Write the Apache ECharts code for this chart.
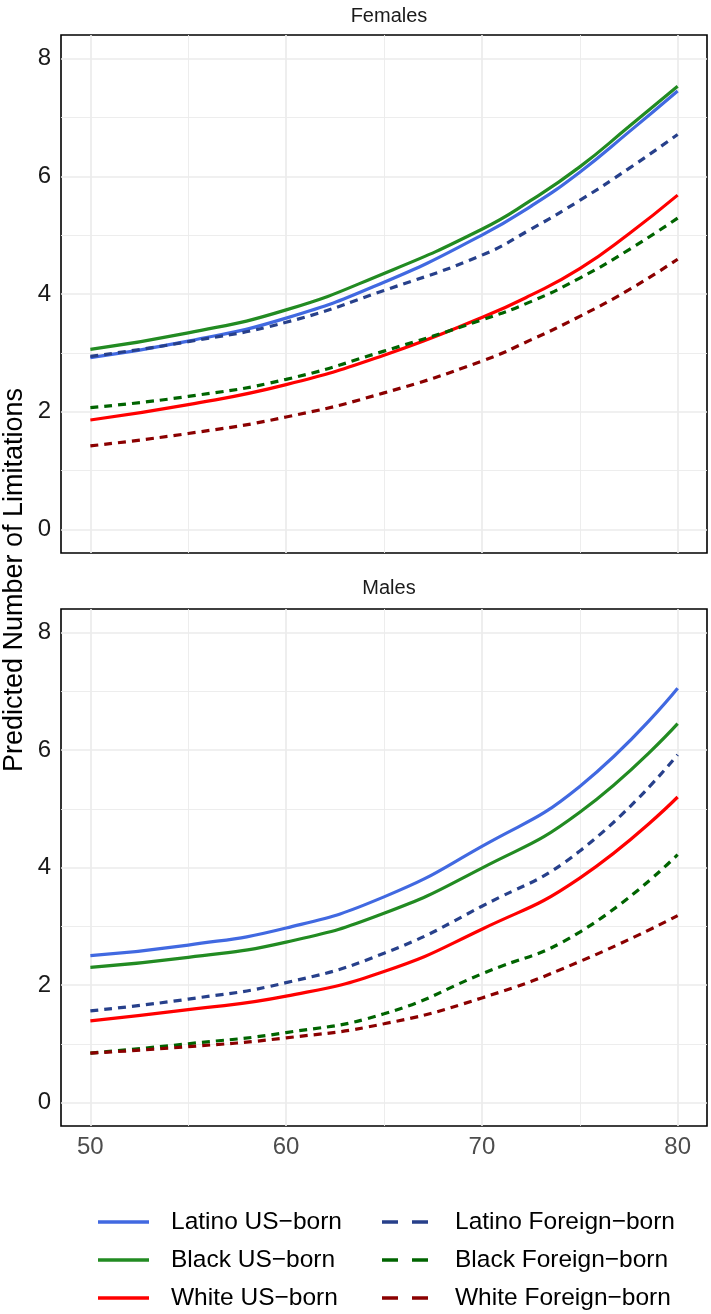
<!DOCTYPE html>
<html>
<head>
<meta charset="utf-8">
<script src="https://cdn.jsdelivr.net/npm/echarts@6/dist/echarts.min.js"></script>
<style>
html,body{margin:0;padding:0;background:#fff;}
#chart{width:711px;height:1314px;}
</style>
</head>
<body>
<div id="chart"></div>
<script>
// ---- data ----
const panels = ['Females', 'Males'];
const seriesNames = ['Latino US\u2212born', 'Black US\u2212born', 'White US\u2212born',
                     'Latino Foreign\u2212born', 'Black Foreign\u2212born', 'White Foreign\u2212born'];

// Females
const femAges      = [50, 55, 60, 65, 70, 72.5, 75, 77.5, 80];
const femLatinoUS  = [2.92, 3.20, 3.59, 4.20, 5.00, 5.49, 6.07, 6.75, 7.45];
const femBlackUS   = [3.06, 3.34, 3.73, 4.35, 5.10, 5.59, 6.16, 6.84, 7.53];
const femWhiteUS   = [1.86, 2.12, 2.46, 2.96, 3.60, 3.98, 4.43, 5.02, 5.68];
const femLatinoFB  = [2.94, 3.19, 3.52, 4.06, 4.66, 5.10, 5.59, 6.13, 6.71];
const femBlackFB   = [2.07, 2.26, 2.55, 3.03, 3.56, 3.87, 4.27, 4.75, 5.29];
const femWhiteFB   = [1.42, 1.63, 1.91, 2.32, 2.86, 3.22, 3.62, 4.07, 4.59];

// Males
const maleAges     = [50, 55, 60, 65, 70, 75, 80];
const maleLatinoUS = [2.50, 2.68, 2.97, 3.50, 4.36, 5.38, 7.05];
const maleBlackUS  = [2.30, 2.47, 2.73, 3.22, 3.99, 4.94, 6.45];
const maleWhiteUS  = [1.39, 1.58, 1.81, 2.23, 2.95, 3.82, 5.20];
const maleLatinoFB = [1.56, 1.76, 2.04, 2.54, 3.34, 4.28, 5.92];
const maleBlackFB  = [0.84, 1.00, 1.19, 1.51, 2.19, 2.90, 4.22];
const maleWhiteFB  = [0.84, 0.95, 1.10, 1.34, 1.78, 2.40, 3.18];

// ticks
const xTicks = [50, 60, 70, 80];
const xMinorTicks = [55, 65, 75];
const yTicks = [0, 2, 4, 6, 8];
const yMinorTicks = [1, 3, 5, 7];

// ---- styling ----
const colors = ['#4169E1', '#228B22', '#FF0000', '#27408B', '#006400', '#8B0000'];
const dashed = [false, false, false, true, true, true];
const FONT = 'Liberation Sans, Arial, Helvetica, sans-serif';

const panelAges = [femAges, maleAges];
const panelData = [
  [femLatinoUS, femBlackUS, femWhiteUS, femLatinoFB, femBlackFB, femWhiteFB],
  [maleLatinoUS, maleBlackUS, maleWhiteUS, maleLatinoFB, maleBlackFB, maleWhiteFB]
];

const grids = [
  {left: 61, top: 35, width: 646, height: 518},
  {left: 61, top: 609, width: 646, height: 517}
];

const xAxes = [], yAxes = [], series = [];
grids.forEach((g, gi) => {
  g.show = true; g.borderColor = '#000'; g.borderWidth = 1.6; g.backgroundColor = 'transparent';
  g.containLabel = false;
  xAxes.push({
    type: 'value', gridIndex: gi, min: 48.5, max: 81.5,
    axisLine: {show: false}, axisTick: {show: false}, splitLine: {show: false},
    axisLabel: gi === 1 ? {show: true, customValues: xTicks, fontSize: 24, color: '#4d4d4d',
                           fontFamily: FONT, margin: 9} : {show: false}
  });
  yAxes.push({
    type: 'value', gridIndex: gi, min: -0.4, max: 8.4,
    axisLine: {show: false}, axisTick: {show: false}, splitLine: {show: false},
    axisLabel: {show: true, customValues: yTicks, fontSize: 24, color: '#1a1a1a',
                fontFamily: FONT, margin: 10}
  });
  // gridlines through the axis scales
  const ml = [];
  xMinorTicks.forEach(v => ml.push({xAxis: v, lineStyle: {width: 0.9}}));
  yMinorTicks.forEach(v => ml.push({yAxis: v, lineStyle: {width: 0.9}}));
  xTicks.forEach(v => ml.push({xAxis: v, lineStyle: {width: 1.7}}));
  yTicks.forEach(v => ml.push({yAxis: v, lineStyle: {width: 1.7}}));
  series.push({
    type: 'line', name: '_grid' + gi, xAxisIndex: gi, yAxisIndex: gi, z: 0,
    data: [[50, -5]], showSymbol: false, symbol: 'none', lineStyle: {opacity: 0},
    silent: true, legendHoverLink: false, tooltip: {show: false},
    markLine: {silent: true, symbol: 'none', animation: false, z: 0,
      label: {show: false}, emphasis: {disabled: true},
      lineStyle: {color: '#ebebeb', type: 'solid'}, data: ml}
  });
  panelData[gi].forEach((arr, si) => {
    series.push({
      type: 'line', name: seriesNames[si], xAxisIndex: gi, yAxisIndex: gi, z: 3,
      data: panelAges[gi].map((a, i) => [a, arr[i]]),
      smooth: 0.5, symbol: 'none', showSymbol: false,
      lineStyle: {color: colors[si], width: 3.2, type: dashed[si] ? [8, 6] : 'solid', cap: 'butt'},
      itemStyle: {color: colors[si]},
      emphasis: {disabled: true}
    });
  });
});

// legend: two columns, three rows (one legend component per key)
const legendRowsY = [1222, 1260, 1298];
const legendColsX = [98, 382];
const legends = seriesNames.map((name, i) => {
  const col = Math.floor(i / 3), row = i % 3;
  const isDash = dashed[i];
  return {
    orient: 'horizontal', left: legendColsX[col], top: legendRowsY[row] - 13,
    padding: 0, itemWidth: isDash ? 46 : 51, itemHeight: 3.6, selectedMode: false,
    textStyle: {fontSize: 24.5, color: '#000', fontFamily: FONT, lineHeight: 26,
                padding: [0, 0, 0, isDash ? 22 : 17]},
    data: [{
      name: name,
      icon: isDash ? 'path://M0,0h16v3.6h-16zM30,0h16v3.6h-16z' : 'rect',
      itemStyle: {color: colors[i]}
    }]
  };
});

const option = {
  animation: false,
  backgroundColor: '#fff',
  title: panels.map((p, i) => ({
    text: p, left: 384, textAlign: 'center', top: i === 0 ? 1 : 573,
    textStyle: {fontSize: 20, fontWeight: 'normal', color: '#1a1a1a', fontFamily: FONT}
  })),
  grid: grids,
  xAxis: xAxes,
  yAxis: yAxes,
  legend: legends,
  graphic: [{
    type: 'text', x: 15, y: 580, rotation: Math.PI / 2,
    style: {text: 'Predicted Number of Limitations', fontSize: 27, fontFamily: FONT,
            fill: '#000', align: 'center', verticalAlign: 'middle'}
  }],
  series: series
};

const chart = echarts.init(document.getElementById('chart'), null, {renderer: 'canvas'});
chart.setOption(option);
</script>
</body>
</html>
